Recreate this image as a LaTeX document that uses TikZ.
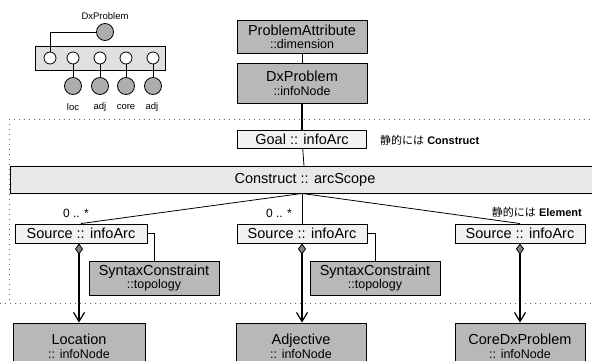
\documentclass[tikz,border=0pt]{standalone}
\usepackage{fontspec}
\setmainfont{Liberation Sans}
\newfontfamily\jpfont{Noto Sans CJK JP}
\usetikzlibrary{arrows.meta}

\newcommand{\subline}[1]{{\fontsize{12.5}{13}\selectfont #1}}

\begin{document}
\begin{tikzpicture}[x=1pt,y=-1pt,
  every node/.style={inner sep=0pt},
  dense/.style={draw, line width=0.9pt, fill=black!28, align=center,
    font=\fontsize{14.5}{15}\selectfont},
  sparse/.style={draw, line width=0.9pt, fill=black!5, align=center,
    font=\fontsize{14.5}{15}\selectfont},
  link/.style={line width=0.8pt},
  compose/.style={line width=1.3pt,
    {Diamond[length=11pt,width=8pt,fill=black!50,line width=0.8pt]}-{Straight Barb[length=9pt,width=11pt,line width=1.2pt]}},
  region/.style={black!60, line width=0.8pt, dash pattern=on 1pt off 4pt},
  wcirc/.style={circle, draw, line width=0.8pt, fill=white, minimum size=12pt},
  gcirc/.style={circle, draw, line width=0.8pt, fill=black!32, minimum size=17pt},
  tiny/.style={font=\fontsize{9.5}{10}\selectfont},
  note/.style={font=\fontsize{11}{12}\selectfont},
  mult/.style={font=\fontsize{12}{13}\selectfont},
]
\useasboundingbox (0,0) rectangle (592,361);

% dotted region borders
\draw[region] (9,119) -- (592,119);
\draw[region] (9,119) -- (9,303);
\draw[region] (0,303) -- (592,303);

% small overview: DxProblem and its slots
\node[tiny] (ovlabel) at (105,16) {DxProblem};
\node[draw, line width=0.9pt, fill=black!12, minimum width=130pt, minimum height=24pt] (ovbar) at (100,58) {};
\node[gcirc] (ovdx) at (105,32) {};
\node[wcirc] (s1) at (50,58) {};
\node[wcirc] (s2) at (73,58) {};
\node[wcirc] (s3) at (100,58) {};
\node[wcirc] (s4) at (126,58) {};
\node[wcirc] (s5) at (153,58) {};
\node[gcirc] (g2) at (73,86) {};
\node[gcirc] (g3) at (100,86) {};
\node[gcirc] (g4) at (126,86) {};
\node[gcirc] (g5) at (153,86) {};
\draw[link] (ovdx.west) -| (s1.north);
\draw[link] (s2) -- (g2);
\draw[link] (s3) -- (g3);
\draw[link] (s4) -- (g4);
\draw[link] (s5) -- (g5);
\node[tiny] (l2) at (73,107) {loc};
\node[tiny] (l3) at (100,107) {adj};
\node[tiny] (l4) at (126,107) {core};
\node[tiny] (l5) at (152,107) {adj};

% main column
\node[dense, minimum width=130pt, minimum height=33pt] (pa) at (302,36.5)
  {ProblemAttribute\\[-2pt]\subline{::dimension}};
\node[dense, minimum width=130pt, minimum height=40pt] (dxp) at (302,83)
  {DxProblem\\[-1pt]\subline{::infoNode}};
\node[sparse, minimum width=129pt, minimum height=18pt] (goal) at (302,139)
  {Goal :: infoArc};
\node[note, anchor=west] (goalnote) at (380,140)
  {{\jpfont 静的には} \textbf{Construct}};
\node[draw, line width=0.9pt, fill=black!9, minimum width=590pt, minimum height=27pt,
  font=\fontsize{14.5}{15}\selectfont] (scope) at (305,179.5) {Construct :: arcScope};
\coordinate (fan) at (goal.south |- scope.south);

\draw[link] (pa) -- (dxp);
\draw[compose, -] (dxp.south) -- (goal.north);
\draw[link] (goal) -- (scope);

% sources
\node[sparse, minimum width=132pt, minimum height=19pt] (src1) at (81,233.5) {Source :: infoArc};
\node[sparse, minimum width=130pt, minimum height=19pt] (src2) at (302,233.5) {Source :: infoArc};
\node[sparse, minimum width=130pt, minimum height=19pt] (src3) at (520,233.5) {Source :: infoArc};
\node[mult] (m1) at (76,213) {0 .. *};
\node[mult] (m2) at (279,213) {0 .. *};
\node[note, anchor=east] (srcnote) at (582,212)
  {{\jpfont 静的には} \textbf{Element}};

\draw[link] (fan) -- (src1.north);
\draw[link] (fan) -- (src2.north);
\draw[link] (fan) -- (src3.north);

% syntax constraints
\node[dense, minimum width=130pt, minimum height=34pt] (syn1) at (154,278)
  {SyntaxConstraint\\[-2pt]\subline{::topology}};
\node[dense, minimum width=130pt, minimum height=34pt] (syn2) at (375,278)
  {SyntaxConstraint\\[-2pt]\subline{::topology}};
\draw[link] (src1.east) -| (syn1.north);
\draw[link] (src2.east) -| (syn2.north);

% targets
\node[dense, minimum width=132pt, minimum height=46pt] (loc) at (79,346)
  {Location\\[-1pt]\subline{:: infoNode}};
\node[dense, minimum width=130pt, minimum height=46pt] (adj) at (301,346)
  {Adjective\\[-1pt]\subline{:: infoNode}};
\node[dense, minimum width=130pt, minimum height=46pt] (core) at (520,346)
  {CoreDxProblem\\[-1pt]\subline{:: infoNode}};

\draw[compose] (src1.south -| loc.north) -- (loc.north);
\draw[compose] (src2.south) -- (src2.south |- adj.north);
\draw[compose] (src3.south) -- (core.north);
\end{tikzpicture}
\end{document}
